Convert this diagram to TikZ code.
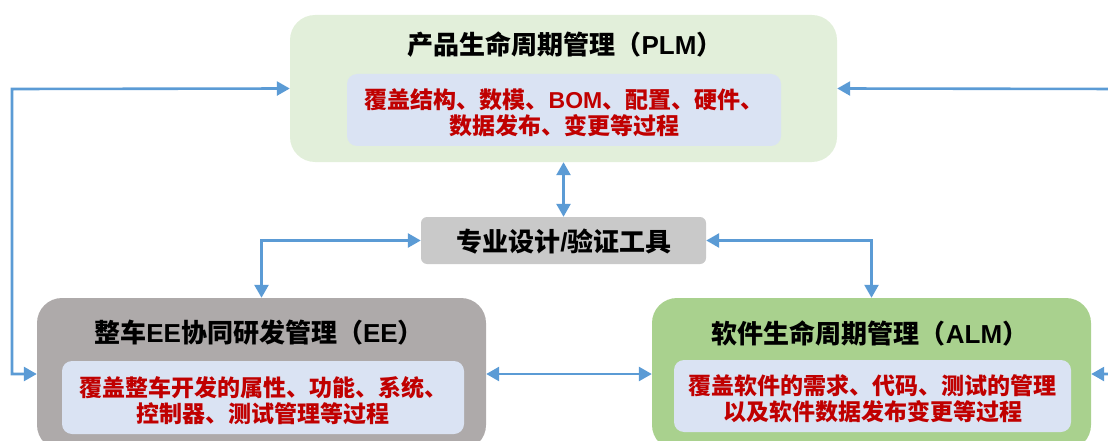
\documentclass[tikz,border=0pt]{standalone}
\usepackage{fontspec}
\setmainfont{Liberation Sans}
\newfontfamily\cjk{Noto Sans CJK SC}
\usetikzlibrary{arrows.meta}
\definecolor{plmfill}{HTML}{E2EFDA}
\definecolor{innerfill}{HTML}{DAE3F3}
\definecolor{toolfill}{HTML}{C9C9C9}
\definecolor{eefill}{HTML}{AEAAAA}
\definecolor{almfill}{HTML}{A9D18E}
\definecolor{arrblue}{HTML}{5B9BD5}
\definecolor{redtext}{HTML}{C00000}
\tikzset{
  bigbox/.style={rounded corners=25pt, draw=none, inner sep=0pt},
  innerbox/.style={rounded corners=10pt, fill=innerfill, draw=none, inner sep=0pt},
  toolbox/.style={rounded corners=6pt, fill=toolfill, draw=none, inner sep=0pt},
  titletext/.style={font=\bfseries\fontsize{26}{29}\selectfont, text=black, inner sep=0pt},
  redlines/.style={font=\bfseries\fontsize{23}{25.5}\selectfont, text=redtext, align=center, inner sep=0pt},
  dbl/.style={draw=arrblue, line width=2.6pt, {Triangle[length=13pt,width=14pt]}-{Triangle[length=13pt,width=14pt]}},
}
\begin{document}
\begin{tikzpicture}[x=1pt, y=-1pt]
\useasboundingbox (0,0) rectangle (1108,441);
% PLM
\node[bigbox, fill=plmfill, minimum width=547pt, minimum height=147pt] (plm) at (563.5,88.5) {};
\node[titletext] (plmt) at (565,45) {{\cjk 产品生命周期管理（}PLM{\cjk ）}};
\node[innerbox, minimum width=434pt, minimum height=72pt] (plmi) at (564,110) {};
\node[redlines] (plmtx) at (564,113) {{\cjk 覆盖结构、数模、}BOM{\cjk 、配置、硬件、}\\{\cjk 数据发布、变更等过程}};
% tool
\node[toolbox, minimum width=285pt, minimum height=47pt] (tool) at (563.5,240.5) {};
\node[titletext] (toolt) at (564,242) {{\cjk 专业设计}/{\cjk 验证工具}};
% EE
\node[bigbox, fill=eefill, minimum width=449pt, minimum height=152pt] (ee) at (261.5,374) {};
\node[titletext] (eet) at (259,333) {{\cjk 整车}EE{\cjk 协同研发管理（}EE{\cjk ）}};
\node[innerbox, minimum width=402pt, minimum height=73pt] (eei) at (263,397.5) {};
\node[redlines] (eetx) at (263,400.5) {\cjk 覆盖整车开发的属性、功能、系统、\\\cjk 控制器、测试管理等过程};
% ALM
\node[bigbox, fill=almfill, minimum width=439pt, minimum height=152pt] (alm) at (871.5,374) {};
\node[titletext] (almt) at (870,333) {{\cjk 软件生命周期管理（}ALM{\cjk ）}};
\node[innerbox, minimum width=397pt, minimum height=72pt] (almi) at (872.5,396) {};
\node[redlines] (almtx) at (872.5,398.5) {\cjk 覆盖软件的需求、代码、测试的管理\\\cjk 以及软件数据发布变更等过程};
% connector corners
\coordinate (cL1) at (12,89);
\coordinate (cL2) at (12,374);
\coordinate (cR1) at (1125,89);
\coordinate (cR2) at (1125,374);
% connectors
\draw[dbl] (plm.west) -- (cL1) -- (cL2) -- (ee.west);
\draw[dbl] (plm.east) -- (cR1) -- (cR2) -- (alm.east);
\draw[dbl] (plm.south) -- (tool.north);
\draw[dbl] (tool.west) -| (ee.north);
\draw[dbl] (tool.east) -| (alm.north);
\draw[dbl] (ee.east) -- (alm.west);
\end{tikzpicture}
\end{document}
